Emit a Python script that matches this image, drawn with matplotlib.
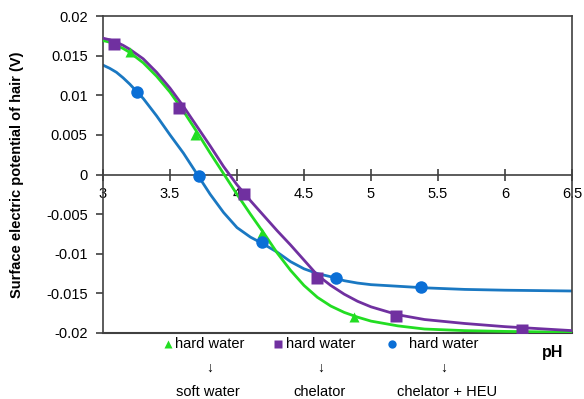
import matplotlib
matplotlib.use("Agg")
import matplotlib.pyplot as plt

plt.rcParams['font.family'] = ['Liberation Sans', 'DejaVu Sans']

# fitted curves
curve_ph = [3.0, 3.05, 3.1, 3.15, 3.2, 3.3, 3.4, 3.5, 3.6, 3.7, 3.8, 3.9, 4.0,
            4.1, 4.2, 4.3, 4.4, 4.5, 4.6, 4.7, 4.8, 4.9, 5.0, 5.2, 5.4, 5.7,
            6.0, 6.5]
soft_curve = [0.0169, 0.0167, 0.0163, 0.0159, 0.0154, 0.0141, 0.0124, 0.0104,
              0.0080, 0.0054, 0.0027, 0.0001, -0.0025, -0.0050, -0.0074,
              -0.0099, -0.0121, -0.0140, -0.0155, -0.0166, -0.0174, -0.0180,
              -0.0185, -0.0191, -0.0195, -0.0197, -0.0198, -0.0199]
chel_curve = [0.0172, 0.0170, 0.0167, 0.0163, 0.0158, 0.0146, 0.0129, 0.0109,
              0.0086, 0.0061, 0.0036, 0.0010, -0.0013, -0.0033, -0.0052,
              -0.0071, -0.0089, -0.0108, -0.0127, -0.0140, -0.0151, -0.0160,
              -0.0167, -0.0177, -0.0183, -0.0188, -0.0192, -0.0197]
heu_curve = [0.0138, 0.0134, 0.0129, 0.0122, 0.0114, 0.0096, 0.0074, 0.0050,
             0.0027, 0.0001, -0.0025, -0.0048, -0.0067, -0.0079, -0.0088,
             -0.0098, -0.0110, -0.0119, -0.0125, -0.0129, -0.0134, -0.0137,
             -0.0139, -0.0141, -0.0143, -0.0145, -0.0146, -0.0147]

# measured points
soft_ph = [3.2, 3.69, 4.19, 4.87]
soft_v = [0.0154, 0.0050, -0.0074, -0.0180]
chel_ph = [3.08, 3.57, 4.05, 4.60, 5.19, 6.13]
chel_v = [0.0165, 0.0084, -0.0025, -0.0130, -0.0179, -0.0196]
heu_ph = [3.25, 3.72, 4.19, 4.74, 5.37]
heu_v = [0.0104, -0.0002, -0.0085, -0.0131, -0.0142]

xticks = [3, 3.5, 4, 4.5, 5, 5.5, 6, 6.5]
yticks = [0.02, 0.015, 0.01, 0.005, 0, -0.005, -0.01, -0.015, -0.02]

green = "#22dd22"
purple = "#7030a0"
blue_line = "#1a78c2"
blue_pt = "#0b6fd6"

W, H = 584, 399
fig = plt.figure(figsize=(W / 100, H / 100), dpi=100)
ax = fig.add_axes([103 / W, 1 - 333 / H, 469 / W, 317 / H])

ax.plot(curve_ph, heu_curve, color=blue_line, lw=2.0, zorder=2)
ax.plot(curve_ph, soft_curve, color=green, lw=2.0, zorder=3)
ax.plot(curve_ph, chel_curve, color=purple, lw=2.0, zorder=4)

ax.plot(soft_ph, soft_v, "^", color=green, ms=7, mec="none", zorder=5)
ax.plot(chel_ph, chel_v, "s", color=purple, ms=8, mec="none", zorder=5)
ax.plot(heu_ph, heu_v, "o", color=blue_pt, ms=9, mec="none", zorder=5)

ax.set_xlim(3, 6.5)
ax.set_ylim(-0.02, 0.02)

# x axis crosses at zero, box kept around plot
ax.spines['bottom'].set_position(('data', 0))
for s in ax.spines.values():
    s.set_color("#404040")
    s.set_linewidth(1.2)
ax.plot([0, 1], [0, 0], transform=ax.transAxes, color="#404040", lw=1.5,
        clip_on=False)

ax.set_xticks(xticks)
ax.set_xticklabels(["%g" % t for t in xticks])
ax.set_yticks(yticks)
ax.set_yticklabels(["%g" % t for t in yticks])
ax.tick_params(axis='x', direction='inout', length=8, width=1.2,
               colors="#404040", labelcolor="black", labelsize=10.5, pad=5)
ax.tick_params(axis='y', direction='out', length=5, width=1.2,
               colors="#404040", labelcolor="black", labelsize=10.5, pad=6)

fig.text(17 / W, 1 - 175 / H, "Surface electric potential of hair (V)",
         rotation=90, ha='center', va='center', fontsize=10.5,
         fontweight='bold')
fig.text(553 / W, 1 - 352 / H, "pH", ha='center', va='center',
         fontsize=11.5, fontweight='bold')

# legend text under the plot
labels = [("^", green, 168, 210, "soft water", 208),
          ("s", purple, 278, 321, "chelator", 320),
          ("o", blue_pt, 392, 444, "chelator + HEU", 447)]
for mk, col, mx, tx, lab, lx in labels:
    ax.plot([mx / W], [1 - 344 / H], mk, color=col, ms=6, mec="none",
            transform=fig.transFigure, clip_on=False)
    fig.text(tx / W, 1 - 344 / H, "hard water", ha='center', va='center',
             fontsize=10.5)
    fig.text(tx / W, 1 - 368 / H, "\u2193", ha='center', va='center',
             fontsize=10)
    fig.text(lx / W, 1 - 392 / H, lab, ha='center', va='center',
             fontsize=10.5)

fig.savefig("out.png", dpi=100)
